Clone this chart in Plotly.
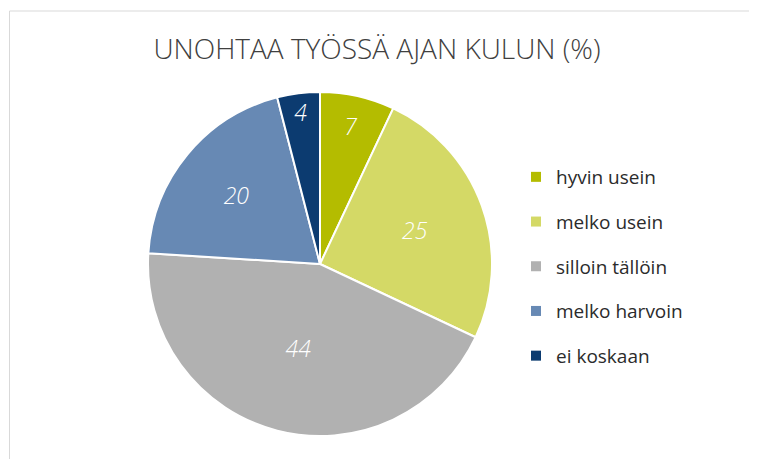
import plotly.graph_objects as go

labels = ['hyvin usein', 'melko usein', 'silloin tällöin', 'melko harvoin', 'ei koskaan']
values = [7, 25, 44, 20, 4]
colors = ['#B4BC00', '#D4D966', '#B1B1B1', '#6789B4', '#0C3B70']

W, H = 757, 459
# the page body puts the figure about 8 px in from the corner
OX, OY = 8, 8


def px(x):
  return (x - OX) / W


def py(y):
  return 1 - (y - OY) / H


fig = go.Figure()
fig.add_trace(go.Pie(
  labels=labels,
  values=values,
  sort=False,
  direction='clockwise',
  rotation=0,
  marker=dict(colors=colors, line=dict(color='white', width=2)),
  textinfo='value',
  textposition='inside',
  insidetextorientation='horizontal',
  textfont=dict(family='Open Sans', size=23, color='white', style='italic', weight=300),
  domain=dict(x=[px(148), px(492)], y=[py(436), py(92)]),
  hoverinfo='label+value',
  showlegend=False,
))

# legend entries, one group each so that the gap between them can be set
for lab, col in zip(labels, colors):
  fig.add_trace(go.Scatter(
    x=[None], y=[None], mode='markers', name=lab, legendgroup=lab,
    marker=dict(symbol='square', size=10, color=col),
  ))

# thin frame round the chart area
fig.add_shape(type='rect', xref='paper', yref='paper',
              x0=0.002, x1=1.05, y0=-0.05, y1=py(11),
              line=dict(color='#D9D9D9', width=1), layer='below')

fig.update_layout(
  width=W, height=H,
  margin=dict(l=0, r=0, t=0, b=0),
  paper_bgcolor='white',
  plot_bgcolor='white',
  xaxis=dict(visible=False),
  yaxis=dict(visible=False),
  title=dict(text='UNOHTAA TYÖSSÄ AJAN KULUN (%)',
             x=px(377), xanchor='center', y=py(49), yanchor='middle',
             font=dict(family='Open Sans', size=28, color='#404040', weight=300)),
  legend=dict(x=px(516), xanchor='left', y=py(158), yanchor='top',
              itemwidth=30, traceorder='grouped', tracegroupgap=17,
              font=dict(family='Open Sans', size=19, color='#2B2B2B')),
  showlegend=True,
)

fig.write_html('out.html')
